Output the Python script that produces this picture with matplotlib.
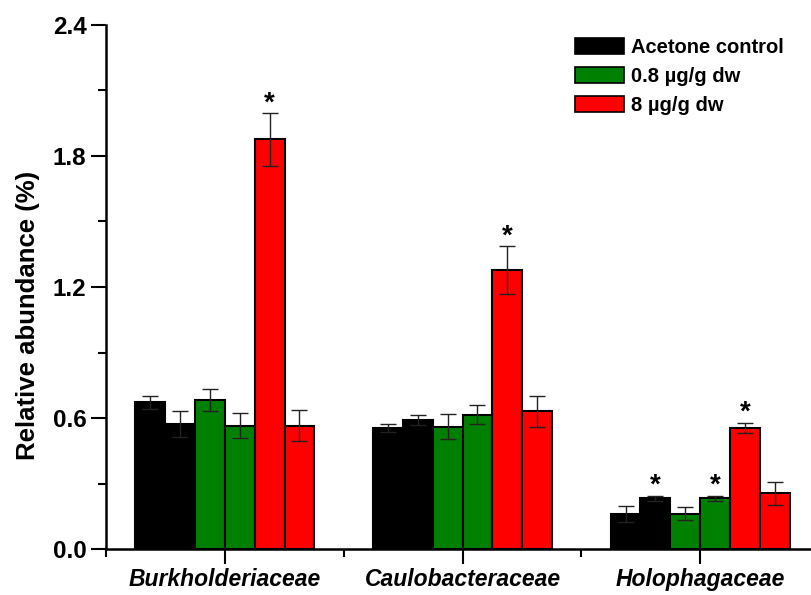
import matplotlib
matplotlib.use("Agg")
import matplotlib.pyplot as plt
import numpy as np
from matplotlib.patches import Patch
from matplotlib.ticker import MultipleLocator, FixedLocator

plt.rcParams["font.family"] = ["Liberation Sans", "DejaVu Sans"]
plt.rcParams["font.weight"] = "bold"

categories = ["Burkholderiaceae", "Caulobacteraceae", "Holophagaceae"]
treatments = ["Acetone control", "0.8 \u00b5g/g dw", "8 \u00b5g/g dw"]
colors = ["#000000", "#008000", "#ff0000"]

# two bars per treatment in every family
control_a = [0.672, 0.553, 0.160]
control_a_err = [0.030, 0.018, 0.035]
control_b = [0.574, 0.592, 0.232]
control_b_err = [0.060, 0.023, 0.012]
low_a = [0.684, 0.560, 0.162]
low_a_err = [0.050, 0.057, 0.030]
low_b = [0.565, 0.615, 0.232]
low_b_err = [0.058, 0.043, 0.012]
high_a = [1.876, 1.278, 0.556]
high_a_err = [0.120, 0.110, 0.023]
high_b = [0.565, 0.631, 0.255]
high_b_err = [0.070, 0.070, 0.052]

# (series index, category index) flagged as significant
stars = [(1, 2), (3, 2), (4, 0), (4, 1), (4, 2)]

series = [control_a, control_b, low_a, low_b, high_a, high_b]
errors = [control_a_err, control_b_err, low_a_err, low_b_err, high_a_err, high_b_err]
series_color = [colors[0], colors[0], colors[1], colors[1], colors[2], colors[2]]

fig = plt.figure(figsize=(8.11, 5.95), dpi=100)
ax = fig.add_axes([0.1307, 0.0773, 0.8792, 0.8807])

x = np.arange(1, len(categories) + 1)
w = 0.1256
for k, (vals, errs, c) in enumerate(zip(series, errors, series_color)):
    pos = x + (k - 2.5) * w
    ax.bar(pos, vals, width=w, color=c, edgecolor="black", linewidth=1.5, zorder=2)
    ax.errorbar(pos, vals, yerr=errs, fmt="none", ecolor="#222222",
                elinewidth=1.0, capsize=6, capthick=1.0, zorder=3)

for k, g in stars:
    top = series[k][g] + errors[k][g]
    ax.annotate("*", (x[g] + (k - 2.5) * w, top), xytext=(0, 2),
                textcoords="offset points", ha="center", va="baseline",
                fontsize=20, fontweight="bold")

ax.set_xlim(0.5, 3.5)
ax.set_ylim(0, 2.4)
ax.yaxis.set_major_locator(MultipleLocator(0.6))
ax.yaxis.set_minor_locator(MultipleLocator(0.3))
ax.set_yticks([0, 0.6, 1.2, 1.8, 2.4])
ax.set_yticklabels(["0.0", "0.6", "1.2", "1.8", "2.4"])
ax.set_xticks(x)
ax.set_xticklabels(categories, fontstyle="italic", fontsize=16.5)
ax.xaxis.set_minor_locator(FixedLocator([0.5, 1.5, 2.5, 3.5]))

for s in ["top", "right"]:
    ax.spines[s].set_visible(False)
for s in ["left", "bottom"]:
    ax.spines[s].set_linewidth(1.8)
ax.tick_params(axis="both", which="major", length=11, width=1.5, direction="out")
ax.tick_params(axis="both", which="minor", length=6, width=1.5, direction="out")
ax.tick_params(axis="y", labelsize=17.5, pad=3)
ax.tick_params(axis="x", pad=3)
for t in ax.get_yticklabels():
    t.set_fontweight("bold")

ax.set_ylabel("Relative abundance (%)", fontsize=18.5, fontweight="bold")
ax.yaxis.set_label_coords(-0.093, 0.445)

handles = [Patch(facecolor=c, edgecolor="black", linewidth=1.2) for c in colors]
ax.legend(handles, treatments, loc="upper left", bbox_to_anchor=(0.633, 1.01),
          frameon=False, handlelength=2.4, handleheight=0.8,
          handletextpad=0.35, labelspacing=0.5,
          prop={"weight": "bold", "size": 14.5})

fig.savefig("out.png", dpi=100)
